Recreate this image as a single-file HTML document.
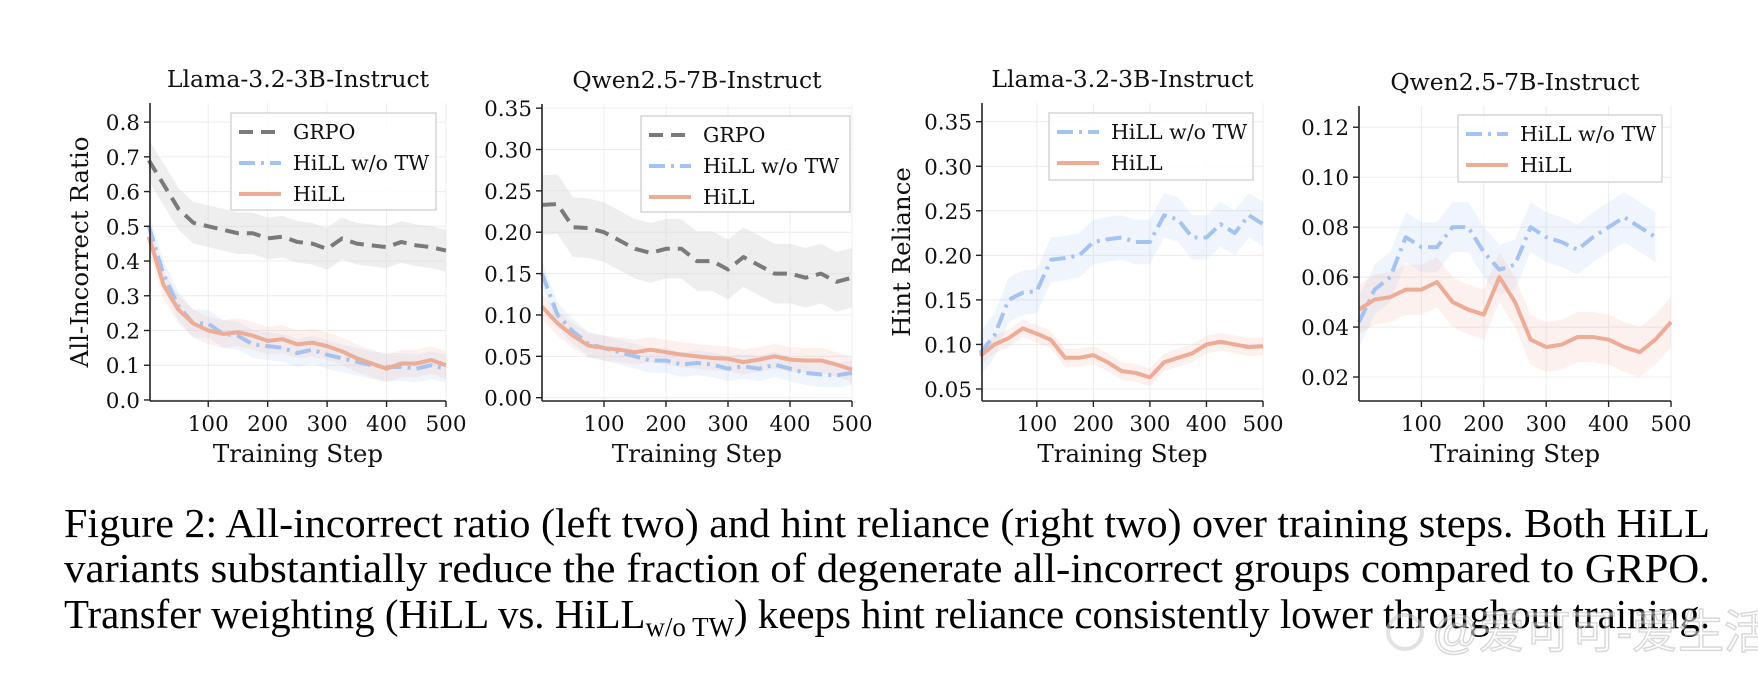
<!DOCTYPE html>
<html><head><meta charset="utf-8">
<style>
html,body{margin:0;padding:0;background:#fff;}
svg{display:block;}
text{font-family:"DejaVu Serif","Liberation Serif",serif;fill:#111;}
.cap{font-family:"Liberation Serif","Noto Serif CJK SC",serif;font-size:41px;fill:#000;}
</style></head>
<body>
<svg id="fig" width="1758" height="678" viewBox="0 0 1758 678" xmlns="http://www.w3.org/2000/svg">
  <g id="panels"></g>
  <g>
    <text class="cap" x="64" y="537" textLength="1646" lengthAdjust="spacingAndGlyphs">Figure 2: All-incorrect ratio (left two) and hint reliance (right two) over training steps. Both HiLL</text>
    <text class="cap" x="64" y="582" textLength="1646" lengthAdjust="spacingAndGlyphs">variants substantially reduce the fraction of degenerate all-incorrect groups compared to GRPO.</text>
    <text class="cap" x="64" y="628" textLength="1646" lengthAdjust="spacingAndGlyphs">Transfer weighting (HiLL vs. HiLL<tspan font-size="27" dy="8">w/o TW</tspan><tspan dy="-8">) keeps hint reliance consistently lower throughout training.</tspan></text>
  </g>
  <g opacity="0.55">
    <circle cx="1405" cy="632" r="17" fill="none" stroke="#ccc" stroke-width="4"/>
    <text x="1432" y="648" style="font-family:'Liberation Sans','Noto Sans CJK SC',sans-serif;font-size:46px;fill:#fff;stroke:#bbb;stroke-width:1.5">@爱可可-爱生活</text>
  </g>
</svg>
<script>
// ---- data ----
const steps = [0,25,50,75,100,125,150,175,200,225,250,275,300,325,350,375,400,425,450,475,500];
const steps4b = [0,25,50,75,100,125,150,175,200,225,250,275,300,325,350,375,400,425,450,475];
const p1Grpo = [0.69,0.62,0.55,0.51,0.50,0.49,0.48,0.48,0.465,0.47,0.455,0.45,0.435,0.465,0.45,0.445,0.44,0.455,0.445,0.44,0.43];
const p1NoTw = [0.50,0.36,0.27,0.22,0.22,0.19,0.185,0.16,0.155,0.15,0.135,0.145,0.13,0.12,0.11,0.10,0.095,0.095,0.09,0.10,0.09];
const p1Hill = [0.47,0.33,0.26,0.22,0.20,0.19,0.195,0.185,0.17,0.175,0.16,0.165,0.155,0.14,0.12,0.105,0.09,0.105,0.105,0.115,0.10];
const p2Grpo = [0.233,0.234,0.206,0.205,0.20,0.19,0.18,0.175,0.18,0.18,0.165,0.165,0.155,0.17,0.16,0.15,0.15,0.145,0.15,0.14,0.145];
const p2NoTw = [0.15,0.10,0.08,0.065,0.06,0.055,0.05,0.045,0.045,0.04,0.042,0.04,0.035,0.038,0.035,0.04,0.035,0.03,0.028,0.027,0.03];
const p2Hill = [0.11,0.09,0.075,0.063,0.06,0.058,0.055,0.058,0.055,0.052,0.05,0.048,0.047,0.043,0.046,0.05,0.046,0.045,0.045,0.04,0.034];
const p3NoTw = [0.09,0.11,0.15,0.158,0.16,0.195,0.197,0.20,0.215,0.218,0.22,0.215,0.215,0.245,0.24,0.22,0.22,0.235,0.225,0.245,0.235];
const p3Hill = [0.087,0.10,0.107,0.118,0.112,0.105,0.085,0.085,0.088,0.08,0.07,0.068,0.063,0.08,0.085,0.09,0.10,0.103,0.10,0.097,0.098];
const p4NoTw = [0.042,0.055,0.06,0.076,0.072,0.072,0.08,0.08,0.07,0.063,0.065,0.08,0.076,0.074,0.071,0.076,0.08,0.084,0.08,0.076];
const p4Hill = [0.047,0.051,0.052,0.055,0.055,0.058,0.05,0.047,0.045,0.06,0.05,0.035,0.032,0.033,0.036,0.036,0.035,0.032,0.03,0.035,0.042];
const spreadGrpo = [0.06,0.06,0.07];
const spreadHill = [0.04,0.015,0.025,0.01];
const xTicks = [100,200,300,400,500];
const p1Ticks = ["0.0","0.1","0.2","0.3","0.4","0.5","0.6","0.7","0.8"];
const p2Ticks = ["0.00","0.05","0.10","0.15","0.20","0.25","0.30","0.35"];
const p3Ticks = ["0.05","0.10","0.15","0.20","0.25","0.30","0.35"];
const p4Ticks = ["0.02","0.04","0.06","0.08","0.10","0.12"];

const NS="http://www.w3.org/2000/svg";
const root=document.getElementById('panels');
function mk(tag,attrs,parent){const e=document.createElementNS(NS,tag);for(const k in attrs)e.setAttribute(k,attrs[k]);(parent||root).appendChild(e);return e;}

const COL={grpo:'#7a7a7a',notw:'#a4c3f0',hill:'#eeab95'};
const DASH={grpo:'14,8',notw:'16,6,3,6',hill:''};
const NAME={grpo:'GRPO',notw:'HiLL w/o TW',hill:'HiLL'};

function panel(cfg){
  const g=mk('g',{});
  
  
  const {L,R,T,B,x0,x1,y0,y1}=cfg;
  const sx=v=>L+(v-x0)/(x1-x0)*(R-L);
  const sy=v=>B-(v-y0)/(y1-y0)*(B-T);
  xTicks.forEach(t=>{mk('line',{x1:sx(t),x2:sx(t),y1:T,y2:B,stroke:'#ececec','stroke-width':1},g);});
  cfg.yt.forEach(t=>{const y=sy(+t);mk('line',{x1:L,x2:R,y1:y,y2:y,stroke:'#ececec','stroke-width':1},g);});
  cfg.series.forEach(s=>{
    const xs=s.steps;
    let top=xs.map((x,i)=>sx(x)+','+sy(s.vals[i]+s.sp)).join(' ');
    let bot=xs.map((x,i)=>sx(x)+','+sy(Math.max(y0,s.vals[i]-s.sp))).reverse().join(' ');
    const band=mk('polygon',{points:top+' '+bot,fill:s.key==='grpo'?'#d9d9d9':COL[s.key],opacity:s.key==='grpo'?0.45:0.16},g);
    
    
  });
  cfg.series.forEach(s=>{
    const pts=s.steps.map((x,i)=>sx(x)+','+sy(s.vals[i])).join(' ');
    const pl=mk('polyline',{points:pts,fill:'none',stroke:COL[s.key],'stroke-width':4,'stroke-dasharray':DASH[s.key],'stroke-linejoin':'round'},g);
    
    
  });
  mk('line',{x1:L,x2:L,y1:T,y2:B,stroke:'#222','stroke-width':1.6},g);
  mk('line',{x1:L,x2:R,y1:B,y2:B,stroke:'#222','stroke-width':1.6},g);
  xTicks.forEach(t=>{
    mk('line',{x1:sx(t),x2:sx(t),y1:B,y2:B+6,stroke:'#222','stroke-width':1.4},g);
    const tx=mk('text',{x:sx(t),y:B+30,'text-anchor':'middle','font-size':21.5},g);tx.textContent=t;
    
    
  });
  cfg.yt.forEach(t=>{
    const y=sy(+t);
    mk('line',{x1:L-6,x2:L,y1:y,y2:y,stroke:'#222','stroke-width':1.4},g);
    const tx=mk('text',{x:L-10,y:y+8,'text-anchor':'end','font-size':21.5},g);tx.textContent=t;
    
    
  });
  const ti=mk('text',{x:(L+R)/2,y:T-16,'text-anchor':'middle','font-size':23.5},g);ti.textContent=cfg.title;
  
  
  const xl=mk('text',{x:(L+R)/2,y:B+61,'text-anchor':'middle','font-size':24.5},g);xl.textContent='Training Step';
  
  
  if(cfg.ylabel){
    const yl=mk('text',{x:0,y:0,'text-anchor':'middle','font-size':24.5,transform:`translate(${cfg.ylx},${(T+B)/2}) rotate(-90)`},g);
    yl.textContent=cfg.ylabel;
    
    
  }
  const lg=mk('g',{},g);
  
  
  const [lx,ly,lw,lh]=cfg.leg;
  mk('rect',{x:lx,y:ly,width:lw,height:lh,fill:'#fff','fill-opacity':0.85,stroke:'#cfcfcf','stroke-width':1.3},lg);
  cfg.series.forEach((s,i)=>{
    const ey=ly+19+i*31;
    const e=mk('g',{},lg);
    
    
    mk('line',{x1:lx+8,x2:lx+50,y1:ey,y2:ey,stroke:COL[s.key],'stroke-width':4,'stroke-dasharray':DASH[s.key]},e);
    const t=mk('text',{x:lx+62,y:ey+7,'font-size':20.5},e);t.textContent=NAME[s.key];
  });
}

panel({name:'panel-llama-all-incorrect',title:'Llama-3.2-3B-Instruct',ylabel:'All-Incorrect Ratio',ylx:88,
  L:150,R:446,T:103,B:401,x0:2,x1:500,y0:-0.003,y1:0.855,yt:p1Ticks,leg:[231,113,205,97],
  series:[{key:'grpo',steps:steps,vals:p1Grpo,sp:spreadGrpo[0]},{key:'notw',steps:steps,vals:p1NoTw,sp:spreadHill[0]},{key:'hill',steps:steps,vals:p1Hill,sp:spreadHill[0]}]});
panel({name:'panel-qwen-all-incorrect',title:'Qwen2.5-7B-Instruct',
  L:542,R:852,T:104,B:401,x0:0,x1:500,y0:-0.004,y1:0.355,yt:p2Ticks,leg:[641,116,209,96],
  series:[{key:'grpo',steps:steps,vals:p2Grpo,sp:spreadGrpo[1]*0.6},{key:'notw',steps:steps,vals:p2NoTw,sp:spreadHill[1]},{key:'hill',steps:steps,vals:p2Hill,sp:spreadHill[1]}]});
panel({name:'panel-llama-hint-reliance',title:'Llama-3.2-3B-Instruct',ylabel:'Hint Reliance',ylx:910,
  L:982,R:1263,T:103,B:401,x0:3,x1:500,y0:0.0365,y1:0.371,yt:p3Ticks,leg:[1049,113,204,67],
  series:[{key:'notw',steps:steps,vals:p3NoTw,sp:spreadHill[2]},{key:'hill',steps:steps,vals:p3Hill,sp:spreadHill[3]}]});
panel({name:'panel-qwen-hint-reliance',title:'Qwen2.5-7B-Instruct',
  L:1359,R:1671,T:106,B:401,x0:0,x1:500,y0:0.0104,y1:0.1285,yt:p4Ticks,leg:[1458,115,204,67],
  series:[{key:'notw',steps:steps4b,vals:p4NoTw,sp:spreadHill[3]},{key:'hill',steps:steps,vals:p4Hill,sp:spreadHill[3]}]});
</script>
</body></html>
